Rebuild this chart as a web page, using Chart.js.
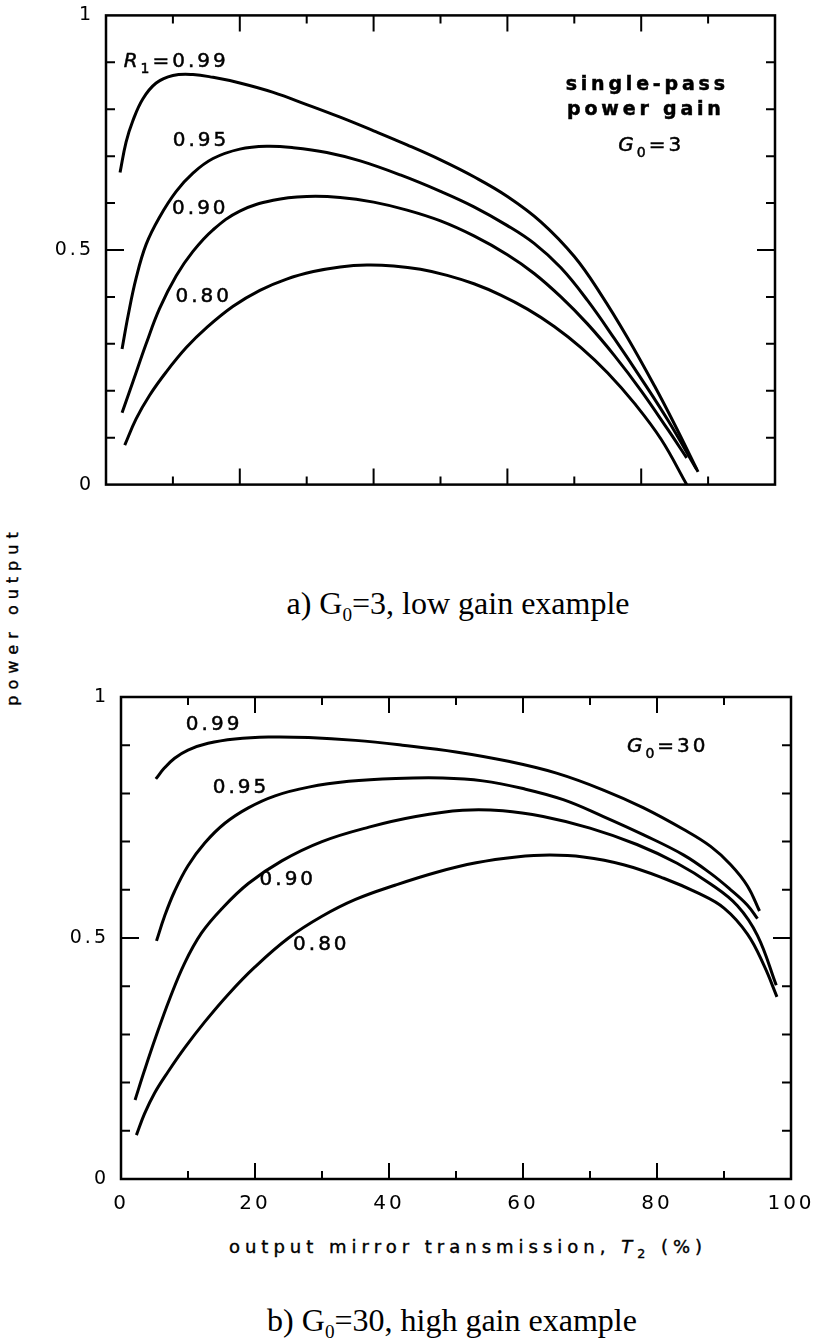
<!DOCTYPE html>
<html>
<head>
<meta charset="utf-8">
<script src="https://cdn.jsdelivr.net/npm/chart.js@4.4.1/dist/chart.umd.min.js"></script>
<style>
  html, body { margin: 0; padding: 0; background: #fff; }
  #page { position: relative; width: 818px; height: 1338px; overflow: hidden; background: #fff;
          font-family: "DejaVu Sans", "Liberation Sans", sans-serif; color: #000; }
  canvas { position: absolute; left: 0; }
  #chart-low { top: 0; }
  #chart-high { top: 680px; }
  .caption { position: absolute; font-family: "Liberation Serif", "Times New Roman", serif; font-size: 32px;
             line-height: 38px; white-space: nowrap; transform: translateX(-50%); }
  .caption sub { font-size: 0.6em; vertical-align: -0.35em; line-height: 0; }
  #y-title { position: absolute; left: 12px; top: 616px; transform: translate(-50%, -50%) rotate(-90deg);
             font-size: 16px; letter-spacing: 6px; white-space: nowrap; -webkit-text-stroke: 0.4px #000; }
  #x-title { position: absolute; left: 468px; top: 1236px; transform: translateX(-50%);
             font-size: 18px; letter-spacing: 5px; white-space: nowrap; line-height: 22px;
             -webkit-text-stroke: 0.4px #000; }
  #x-title sub { font-size: 0.7em; vertical-align: -0.4em; line-height: 0; }
</style>
</head>
<body>
<div id="page">
  <canvas id="chart-low" width="818" height="500" style="width:818px;height:500px"></canvas>
  <div class="caption" style="left:458px;top:584px">a) G<sub>0</sub>=3, low gain example</div>
  <div id="y-title">power output</div>
  <canvas id="chart-high" width="818" height="545" style="width:818px;height:545px"></canvas>
  <div id="x-title">output mirror transmission, <i>T</i><sub>2</sub> (%)</div>
  <div class="caption" style="left:452px;top:1301px">b) G<sub>0</sub>=30, high gain example</div>
</div>

<script>
// =====================
// DATA - output mirror transmission T2 (%) vs power output
// =====================

// a) G0 = 3, low gain
const lowT99 = [2.1, 3.0, 4.0, 5.5, 7.5, 10, 13, 16, 20, 25, 30, 35, 40, 45, 50, 55, 60, 65, 70, 74, 78, 82, 85, 88.5];
const lowP99 = [0.665, 0.730, 0.775, 0.822, 0.856, 0.872, 0.874, 0.868, 0.856, 0.836, 0.810, 0.783, 0.754, 0.724, 0.692, 0.656, 0.614, 0.560, 0.486, 0.405, 0.312, 0.210, 0.128, 0.027];
const lowT95 = [2.4, 3.3, 4.5, 6, 8, 10.5, 13, 16, 20, 24, 28, 33, 38, 44, 50, 55, 60, 64, 68, 72, 76, 80, 84, 88.3];
const lowP95 = [0.289, 0.360, 0.440, 0.512, 0.570, 0.625, 0.664, 0.695, 0.715, 0.721, 0.718, 0.708, 0.690, 0.660, 0.625, 0.592, 0.552, 0.514, 0.462, 0.392, 0.311, 0.226, 0.137, 0.032];
const lowT90 = [2.4, 4, 6, 8, 10.5, 13, 16, 20, 25, 30, 35, 40, 45, 50, 55, 60, 64, 68, 72, 76, 80, 84, 86.8];
const lowP90 = [0.153, 0.218, 0.300, 0.375, 0.445, 0.497, 0.543, 0.583, 0.606, 0.614, 0.612, 0.602, 0.585, 0.562, 0.530, 0.490, 0.450, 0.400, 0.342, 0.275, 0.200, 0.117, 0.057];
const lowT80 = [2.8, 4.5, 6.5, 9, 12, 15, 19, 23, 27, 31, 35, 39, 43, 47, 51, 55, 59, 63, 67, 71, 75, 79, 83, 86.8];
const lowP80 = [0.084, 0.140, 0.190, 0.240, 0.292, 0.334, 0.380, 0.414, 0.438, 0.454, 0.464, 0.468, 0.466, 0.459, 0.446, 0.428, 0.404, 0.374, 0.337, 0.292, 0.238, 0.173, 0.096, 0.0];

// b) G0 = 30, high gain
const highT99 = [5.2, 6.5, 8, 10, 13, 17, 22, 28, 35, 42, 50, 58, 65, 72, 78, 84, 88, 91, 93.5, 95.3];
const highP99 = [0.830, 0.853, 0.873, 0.890, 0.904, 0.913, 0.917, 0.916, 0.910, 0.900, 0.886, 0.866, 0.842, 0.807, 0.770, 0.725, 0.690, 0.652, 0.608, 0.556];
const highT95 = [5.3, 6.5, 8, 10, 12.5, 15.5, 19, 23, 28, 34, 41, 48, 54, 60, 66, 72, 78, 84, 88, 91, 93.5, 95.0];
const highP95 = [0.494, 0.545, 0.597, 0.650, 0.697, 0.738, 0.770, 0.795, 0.813, 0.825, 0.831, 0.832, 0.826, 0.810, 0.787, 0.752, 0.714, 0.672, 0.634, 0.600, 0.568, 0.540];
const highT90 = [2.1, 3.5, 5.2, 7.3, 9.5, 12, 15, 19, 24, 30, 37, 44, 51, 57, 63, 70, 77, 83, 88, 92, 95, 97.8];
const highP90 = [0.164, 0.225, 0.295, 0.375, 0.448, 0.510, 0.560, 0.613, 0.660, 0.700, 0.730, 0.752, 0.765, 0.764, 0.752, 0.728, 0.694, 0.655, 0.612, 0.567, 0.505, 0.402];
const highT80 = [2.3, 3.5, 5, 7, 9.5, 12.5, 16, 20, 25, 30, 35, 41, 47, 53, 59, 64, 69, 75, 81, 86, 90, 93.5, 96, 97.9];
const highP80 = [0.091, 0.135, 0.178, 0.222, 0.272, 0.326, 0.383, 0.440, 0.500, 0.545, 0.580, 0.610, 0.636, 0.656, 0.668, 0.672, 0.668, 0.652, 0.624, 0.594, 0.562, 0.508, 0.442, 0.378];

// axes
const yTickValues = [0, 0.1, 0.2, 0.3, 0.4, 0.5, 0.6, 0.7, 0.8, 0.9, 1];
const yMajorTicks = [0.5];
const yLabelValues = [0, 0.5, 1];
const yLabelTexts = ['0', '0.5', '1'];
const xTickValues = [0, 10, 20, 30, 40, 50, 60, 70, 80, 90, 100];
const xMajorTicks = [20, 40, 60, 80];
const xLabelValues = [0, 20, 40, 60, 80, 100];
const xLabelTexts = ['0', '20', '40', '60', '80', '100'];

// curve annotations: [x, y, text parts]  (part flag: i = italic, s = subscript, b = bold)
const lowNotes = [
  [10.5, 0.906, [['R', 'i'], ['1', 's'], ['=0.99', '']]],
  [14.2, 0.738, [['0.95', '']]],
  [14.1, 0.593, [['0.90', '']]],
  [14.6, 0.405, [['0.80', '']]],
  [80.9, 0.856, [['single-pass', 'b']]],
  [80.7, 0.803, [['power gain', 'b']]],
  [81.5, 0.727, [['G', 'i'], ['0', 's'], ['=3', '']]]
];
const highNotes = [
  [13.9, 0.946, [['0.99', '']]],
  [17.9, 0.815, [['0.95', '']]],
  [24.9, 0.625, [['0.90', '']]],
  [29.9, 0.490, [['0.80', '']]],
  [81.6, 0.900, [['G', 'i'], ['0', 's'], ['=30', '']]]
];

// =====================
// DRAWING
// =====================

const FONT = '"DejaVu Sans", "Liberation Sans", sans-serif';

function toPoints(xs, ys) {
  return xs.map((x, i) => ({ x: x, y: ys[i] }));
}

function curve(xs, ys) {
  return {
    data: toPoints(xs, ys),
    showLine: true,
    borderColor: '#000',
    borderWidth: 3,
    pointRadius: 0,
    fill: false,
    tension: 0.4
  };
}

function labelFor(values, texts, v) {
  const i = values.findIndex(t => Math.abs(t - v) < 1e-6);
  return i >= 0 ? texts[i] : '';
}

function isIn(list, v) {
  return list.some(t => Math.abs(t - v) < 1e-6);
}

function drawRich(ctx, cx, cy, parts, size, spacing) {
  ctx.save();
  ctx.letterSpacing = spacing + 'px';
  ctx.textBaseline = 'alphabetic';
  ctx.textAlign = 'left';
  ctx.fillStyle = '#000';
  ctx.strokeStyle = '#000';
  ctx.lineWidth = 0.5;
  const fontFor = p => {
    const sz = p[1] === 's' ? Math.round(size * 0.7) : size;
    return (p[1] === 'i' ? 'italic ' : '') + (p[1] === 'b' ? 'bold ' : '') + sz + 'px ' + FONT;
  };
  let w = 0;
  parts.forEach(p => { ctx.font = fontFor(p); w += ctx.measureText(p[0]).width; });
  let x = cx - w / 2;
  const base = cy + size * 0.36;
  parts.forEach(p => {
    ctx.font = fontFor(p);
    const y = base + (p[1] === 's' ? size * 0.3 : 0);
    ctx.fillText(p[0], x, y);
    ctx.strokeText(p[0], x, y);
    x += ctx.measureText(p[0]).width;
  });
  ctx.restore();
}

// box, inward ticks and curve notes
const paperFrame = {
  id: 'paperFrame',
  beforeDraw(chart) {
    chart.ctx.letterSpacing = '3px';
  },
  afterDatasetsDraw(chart, args, opts) {
    const ctx = chart.ctx;
    const xs = chart.scales.x, ys = chart.scales.y;
    const a = chart.chartArea;
    ctx.save();
    ctx.strokeStyle = '#000';
    ctx.lineWidth = 2.5;
    ctx.lineCap = 'square';
    ctx.strokeRect(a.left, a.top, a.right - a.left, a.bottom - a.top);
    ctx.lineWidth = 2;
    ctx.lineCap = 'butt';
    ctx.beginPath();
    yTickValues.forEach(v => {
      if (v <= 0 || v >= 1) return;
      const py = ys.getPixelForValue(v);
      const len = isIn(yMajorTicks, v) ? 18 : 9;
      ctx.moveTo(a.left, py); ctx.lineTo(a.left + len, py);
      ctx.moveTo(a.right, py); ctx.lineTo(a.right - len, py);
    });
    xTickValues.forEach(v => {
      if (v <= 0 || v >= 100) return;
      const px = xs.getPixelForValue(v);
      const len = isIn(xMajorTicks, v) ? 16 : 8;
      ctx.moveTo(px, a.bottom); ctx.lineTo(px, a.bottom - len);
      ctx.moveTo(px, a.top); ctx.lineTo(px, a.top + len);
    });
    ctx.stroke();
    ctx.restore();
    opts.notes.forEach(n => {
      const bold = n[2][0][1] === 'b';
      drawRich(ctx, xs.getPixelForValue(n[0]), ys.getPixelForValue(n[1]), n[2], bold ? 19 : 20, bold ? 3.8 : 3);
    });
  }
};

function makeChart(id, datasets, notes, box) {
  return new Chart(document.getElementById(id), {
    type: 'scatter',
    data: { datasets: datasets },
    plugins: [paperFrame],
    options: {
      responsive: false,
      animation: false,
      devicePixelRatio: 1,
      layout: { padding: { top: box.top, right: box.right, bottom: 0, left: 0 } },
      plugins: { legend: { display: false }, tooltip: { enabled: false }, paperFrame: { notes: notes } },
      scales: {
        x: {
          type: 'linear', min: 0, max: 100,
          afterFit: s => { s.height = box.xHeight; },
          grid: { display: false }, border: { display: false },
          ticks: {
            display: box.xLabels, stepSize: 10, autoSkip: false, maxRotation: 0, padding: 5,
            color: '#000', font: { family: FONT, size: 20 },
            callback: v => labelFor(xLabelValues, xLabelTexts, v)
          }
        },
        y: {
          type: 'linear', min: 0, max: 1,
          afterFit: s => { s.width = box.left; },
          grid: { display: false }, border: { display: false },
          ticks: {
            stepSize: 0.1, autoSkip: false, padding: 4,
            color: '#000', font: { family: FONT, size: 19 },
            callback: v => labelFor(yLabelValues, yLabelTexts, v)
          }
        }
      }
    }
  });
}

makeChart('chart-low',
  [curve(lowT99, lowP99), curve(lowT95, lowP95), curve(lowT90, lowP90), curve(lowT80, lowP80)],
  lowNotes,
  { top: 13, right: 43, left: 106, xHeight: 10, xLabels: false });

makeChart('chart-high',
  [curve(highT99, highP99), curve(highT95, highP95), curve(highT90, highP90), curve(highT80, highP80)],
  highNotes,
  { top: 17, right: 27, left: 121, xHeight: 46, xLabels: true });
</script>
</body>
</html>
